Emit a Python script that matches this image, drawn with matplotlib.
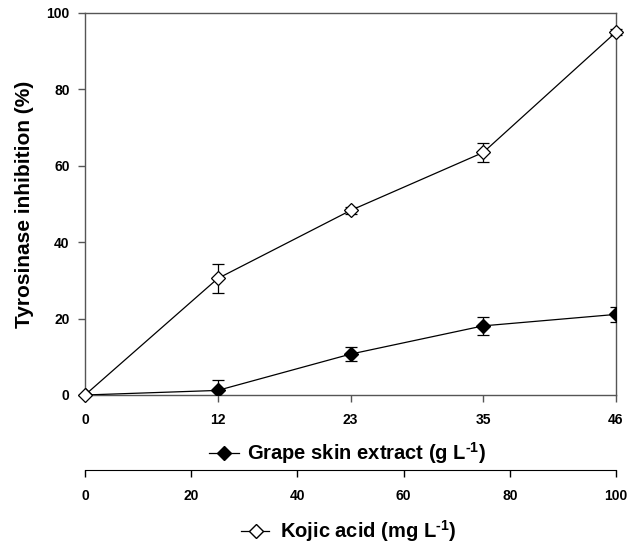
import matplotlib
matplotlib.use("Agg")
import matplotlib.pyplot as plt
from matplotlib.lines import Line2D

plt.rcParams['font.family'] = ['Liberation Sans', 'DejaVu Sans']
plt.rcParams['font.weight'] = 'bold'
plt.rcParams['mathtext.fontset'] = 'custom'
plt.rcParams['mathtext.rm'] = 'Liberation Sans:bold'
plt.rcParams['mathtext.default'] = 'rm'

# data
grape_x = [0, 11.5, 23, 34.5, 46]
grape_ticklabels = ["0", "12", "23", "35", "46"]
grape_y = [0, 1.2, 10.7, 18.1, 21.1]
grape_err = [0, 2.7, 1.9, 2.4, 2.0]

kojic_x = [0, 25, 50, 75, 100]
kojic_y = [0, 30.5, 48.3, 63.5, 95.0]
kojic_err = [0, 3.8, 0.8, 2.5, 0.8]

yticks = [0, 20, 40, 60, 80, 100]
kojic_ticks = [0, 20, 40, 60, 80, 100]

W, H = 640, 544
fig = plt.figure(figsize=(6.4, 5.44), dpi=100)
ax = fig.add_axes([85 / W, 1 - 395 / H, 531 / W, 382 / H])

spine_col = '#555555'

# grape skin extract (bottom axis)
ax.errorbar(grape_x, grape_y, yerr=grape_err, color='black', lw=0.9,
            marker='D', ms=7.5, mfc='black', mec='black',
            capsize=4, elinewidth=0.9, capthick=0.9, zorder=3)
ax.set_xlim(0, 46)
ax.set_ylim(0, 100)
ax.set_xticks(grape_x)
ax.set_xticklabels(grape_ticklabels)
ax.set_yticks(yticks)
ax.tick_params(axis='both', labelsize=10, length=5, width=1, color=spine_col)
ax.tick_params(axis='x', pad=8)
ax.tick_params(axis='y', pad=6)
for s in ax.spines.values():
    s.set_color(spine_col)
    s.set_linewidth(1)
ax.set_ylabel("Tyrosinase inhibition (%)", fontsize=15, fontweight='bold', labelpad=9)

# kojic acid (second axis below)
ax2 = ax.twiny()
ax2.errorbar(kojic_x, kojic_y, yerr=kojic_err, color='black', lw=0.9,
             marker='D', ms=7.5, mfc='white', mec='black', mew=0.9,
             capsize=4, elinewidth=0.9, capthick=0.9, zorder=4, clip_on=False)
ax2.set_xlim(0, 100)
ax2.set_xticks(kojic_ticks)
ax2.xaxis.set_ticks_position('bottom')
ax2.xaxis.set_label_position('bottom')
ax2.spines['bottom'].set_position(('outward', 54))
ax2.spines['bottom'].set_color('black')
ax2.spines['top'].set_visible(False)
ax2.spines['left'].set_visible(False)
ax2.spines['right'].set_visible(False)
ax2.tick_params(axis='x', labelsize=10, length=5, width=1, pad=9)

# axis titles with symbol keys
fig.text(247 / W, 1 - 453 / H, r"Grape skin extract (g L$^{\text{-}1}$)", fontsize=14.5,
         fontweight='bold', ha='left', va='center')
fig.text(280 / W, 1 - 531 / H, r"Kojic acid (mg L$^{\text{-}1}$)", fontsize=14.5,
         fontweight='bold', ha='left', va='center')

key1 = Line2D([209 / W, 224 / W, 239 / W], [1 - 453 / H] * 3, transform=fig.transFigure,
              color='black', lw=0.9, marker='D', ms=7.5, mfc='black', mec='black', markevery=[1])
key2 = Line2D([241 / W, 256 / W, 269 / W], [1 - 531 / H] * 3, transform=fig.transFigure,
              color='black', lw=0.9, marker='D', ms=7.5, mfc='white', mec='black', markevery=[1])
fig.add_artist(key1)
fig.add_artist(key2)

fig.savefig("out.png", dpi=100)
